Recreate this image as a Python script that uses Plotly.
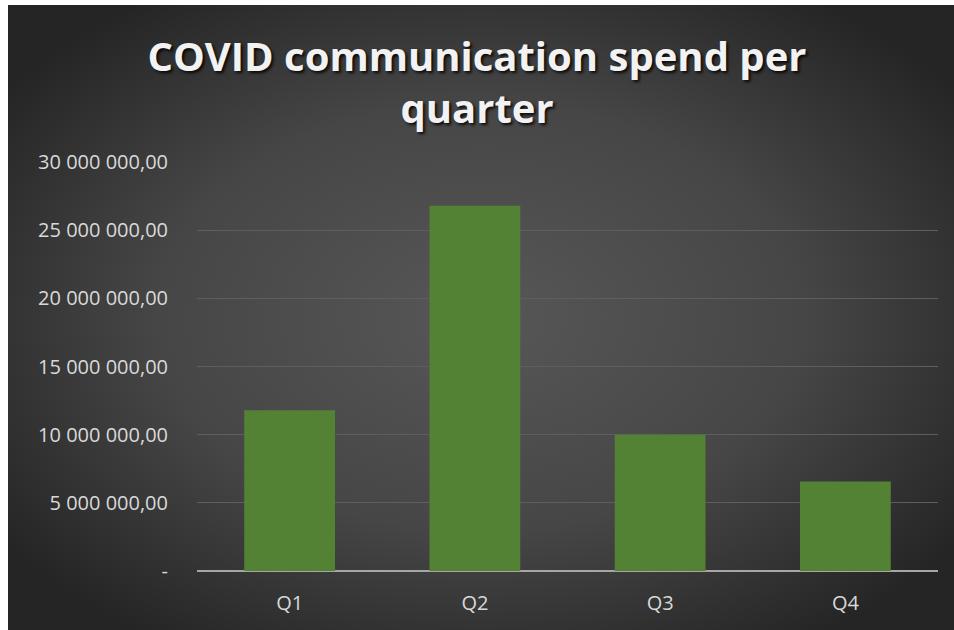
import base64
import plotly.graph_objects as go

quarters = ["Q1", "Q2", "Q3", "Q4"]
spend = [11800000, 26800000, 10000000, 6570000]
tick_vals = [0, 5000000, 10000000, 15000000, 20000000, 25000000, 30000000]
tick_text = ["-", "5 000 000,00", "10 000 000,00", "15 000 000,00",
             "20 000 000,00", "25 000 000,00", "30 000 000,00"]

W, H = 954, 630
ml, mr, mt, mb = 197, 16, 162, 59
pw, ph = W - ml - mr, H - mt - mb

svg = ('<svg xmlns="http://www.w3.org/2000/svg" width="946" height="625" viewBox="0 0 946 625" preserveAspectRatio="none">'
       '<defs><radialGradient id="g" cx="50%" cy="50%" r="62%">'
       '<stop offset="0%" stop-color="#575757"/>'
       '<stop offset="55%" stop-color="#464646"/>'
       '<stop offset="100%" stop-color="#252525"/>'
       '</radialGradient></defs>'
       '<rect width="946" height="625" fill="url(#g)"/></svg>')
src = "data:image/svg+xml;base64," + base64.b64encode(svg.encode()).decode()

x0 = (8 - ml) / pw
x1 = (W - ml) / pw
ytop = (H - mb - 5) / ph
ybot = (H - mb - H) / ph

fig = go.Figure()
fig.add_trace(go.Bar(
    x=quarters, y=spend,
    marker=dict(color="#548235", line=dict(width=0)),
    width=0.49,
    hoverinfo="x+y",
))

fig.update_layout(
    width=W, height=H,
    margin=dict(l=ml, r=mr, t=mt, b=mb),
    paper_bgcolor="white",
    plot_bgcolor="rgba(0,0,0,0)",
    showlegend=False,
    title=dict(
        text="<b>COVID communication spend per<br>quarter</b>",
        x=0.5, xanchor="center",
        y=1 - 71 / H, yanchor="top",
        font=dict(family="Open Sans", size=40, color="#f2f2f2",
                  shadow="2px 2px 3px rgba(0,0,0,0.85)"),
    ),
    images=[dict(
        source=src, xref="paper", yref="paper",
        x=x0, y=ytop, sizex=x1 - x0, sizey=ytop - ybot,
        xanchor="left", yanchor="top", sizing="stretch",
        layer="below",
    )],
    xaxis=dict(
        showgrid=False, showline=False, zeroline=False,
        ticks="", tickfont=dict(family="Open Sans", size=20, color="#d9d9d9"),
        ticklabelstandoff=18,
    ),
    yaxis=dict(
        range=[0, 30000000],
        tickvals=tick_vals, ticktext=tick_text,
        showgrid=True, gridcolor="#5e5e5e", gridwidth=1,
        zeroline=True, zerolinecolor="#a6a6a6", zerolinewidth=2,
        showline=False, ticks="",
        tickfont=dict(family="Open Sans", size=20, color="#d9d9d9"),
        ticklabelstandoff=28,
    ),
)

fig.write_html("out.html")
